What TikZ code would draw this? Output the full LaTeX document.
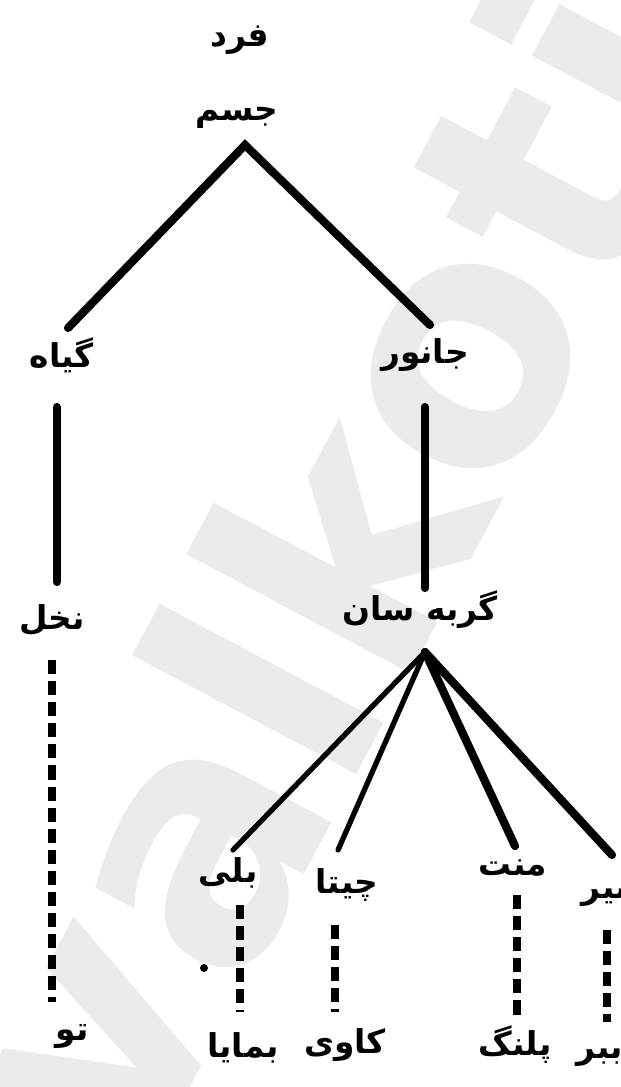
\documentclass[tikz,border=0pt]{standalone}
\usepackage{fontspec}
\newfontfamily\arabicfont[Script=Arabic]{DejaVu Sans}
\setsansfont{DejaVu Sans}
\TeXXeTstate=1
\tikzset{
  lab/.style={font=\arabicfont\bfseries\fontsize{28}{30}\selectfont, inner sep=0pt},
  solidline/.style={line width=7pt, line cap=round},
  thinline/.style={line width=4.5pt, line cap=round},
  dashline/.style={line width=6.5pt, dash pattern=on 12pt off 6pt},
  wm/.style={font=\sffamily\bfseries\fontsize{285}{285}\selectfont, text=black!8, inner sep=0pt}
}
\begin{document}
\begin{tikzpicture}[x=0.03cm,y=-0.03cm]
\useasboundingbox (0,0) rectangle (621,1087);
\clip (0,0) rectangle (621,1087);
% watermark
\node[wm, rotate=62] (mark) at (325,570) {valkoti};
% labels
\node[lab] (top) at (240,40) {\beginR فرد\endR};
\node[lab] (root) at (237,118) {\beginR جسم\endR};
\node[lab] (left) at (62,355) {\beginR گیاه\endR};
\node[lab] (right) at (425,355) {\beginR جانور\endR};
\node[lab] (lmid) at (52,620) {\beginR نخل\endR};
\node[lab] (rmid) at (420,610) {\beginR گربه سان\endR};
\node[lab] (lbot) at (72,1036) {\beginR تو\endR};
\node[lab] (c1) at (228,873) {\beginR بلی\endR};
\node[lab] (c2) at (347,885) {\beginR چیتا\endR};
\node[lab] (c3) at (513,868) {\beginR منت\endR};
\node[lab] (c4) at (615,893) {\beginR شیر\endR};
\node[lab] (b1) at (243,1048) {\beginR بمایا\endR};
\node[lab] (b2) at (345,1045) {\beginR کاوی\endR};
\node[lab] (b3) at (515,1045) {\beginR پلنگ\endR};
\node[lab] (b4) at (600,1058) {\beginR ببر\endR};
% connector points
\coordinate (apexA) at (245,145);
\coordinate (lA) at (68,328);
\coordinate (rA) at (430,325);
\coordinate (lV1) at (57,407);
\coordinate (lV2) at (57,582);
\coordinate (rV1) at (425,407);
\coordinate (rV2) at (425,588);
\coordinate (apexB) at (425,652);
\coordinate (e1) at (233,850);
\coordinate (e2) at (338,850);
\coordinate (e3) at (515,846);
\coordinate (e4) at (612,855);
\coordinate (d0a) at (52,660);
\coordinate (d0b) at (52,1002);
\coordinate (d1a) at (240,905);
\coordinate (d1b) at (240,1012);
\coordinate (d2a) at (335,925);
\coordinate (d2b) at (335,1012);
\coordinate (d3a) at (517,895);
\coordinate (d3b) at (517,1020);
\coordinate (d4a) at (607,930);
\coordinate (d4b) at (607,1022);
% connectors
\draw[solidline] (lA) -- (apexA) -- (rA);
\draw[solidline] (lV1) -- (lV2);
\draw[solidline] (rV1) -- (rV2);
\draw[thinline] (apexB) -- (e1);
\draw[thinline] (apexB) -- (e2);
\draw[solidline] (apexB) -- (e3);
\draw[solidline] (apexB) -- (e4);
\draw[dashline] (d0a) -- (d0b);
\draw[dashline] (d1a) -- (d1b);
\draw[dashline] (d2a) -- (d2b);
\draw[dashline] (d3a) -- (d3b);
\draw[dashline] (d4a) -- (d4b);
\fill (204,968) circle (4);
\end{tikzpicture}
\end{document}
